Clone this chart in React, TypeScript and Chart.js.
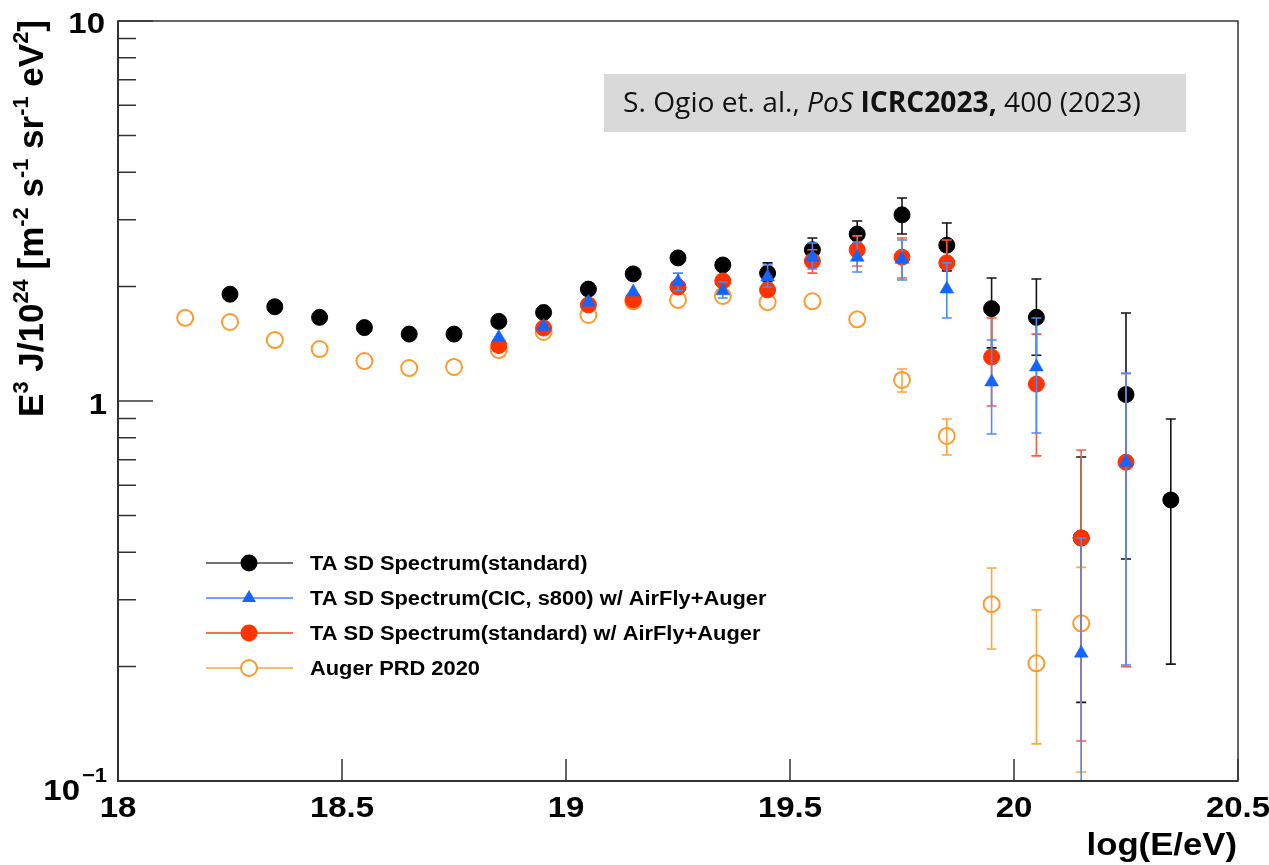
import React, { useEffect, useRef } from "react";
import { Chart, registerables } from "chart.js";

Chart.register(...registerables);

// ---------------- data ----------------
const taStdX = [18.25, 18.35, 18.45, 18.55, 18.65, 18.75, 18.85, 18.95, 19.05, 19.15, 19.25, 19.35, 19.45, 19.55, 19.65, 19.75, 19.85, 19.95, 20.05, 20.15, 20.25, 20.35];
const taStdY = [1.91, 1.77, 1.66, 1.56, 1.5, 1.5, 1.62, 1.71, 1.97, 2.16, 2.38, 2.28, 2.17, 2.5, 2.75, 3.09, 2.57, 1.75, 1.66, 0.436, 1.04, 0.549];
const taStdLo = [null, null, null, null, null, null, null, null, null, null, null, null, 2.06, 2.32, 2.54, 2.75, 2.2, 1.38, 1.32, 0.161, 0.384, 0.203];
const taStdHi = [null, null, null, null, null, null, null, null, null, null, null, null, 2.31, 2.685, 2.976, 3.42, 2.94, 2.107, 2.095, 0.712, 1.704, 0.897];

const taCicX = [18.85, 18.95, 19.05, 19.15, 19.25, 19.35, 19.45, 19.55, 19.65, 19.75, 19.85, 19.95, 20.05, 20.15, 20.25];
const taCicY = [1.47, 1.57, 1.82, 1.935, 2.06, 1.95, 2.12, 2.39, 2.39, 2.36, 1.97, 1.122, 1.229, 0.217, 0.69];
const taCicLo = [null, null, null, null, 1.95, 1.866, 1.995, 2.225, 2.185, 2.082, 1.653, 0.819, 0.824, 0.05, 0.202];
const taCicHi = [null, null, null, null, 2.17, 2.056, 2.28, 2.605, 2.62, 2.652, 2.31, 1.447, 1.653, 0.436, 1.185];

const taAirX = [18.85, 18.95, 19.05, 19.15, 19.25, 19.35, 19.45, 19.55, 19.65, 19.75, 19.85, 19.95, 20.05, 20.15, 20.25];
const taAirY = [1.4, 1.556, 1.79, 1.845, 1.995, 2.07, 1.96, 2.335, 2.5, 2.39, 2.31, 1.305, 1.108, 0.436, 0.69];
const taAirLo = [null, null, null, null, null, null, null, 2.17, 2.266, 2.107, 1.96, 0.97, 0.717, 0.1274, 0.2];
const taAirHi = [null, null, null, null, null, null, null, 2.5, 2.72, 2.685, 2.652, 1.653, 1.5, 0.743, 1.18];

const augerX = [18.15, 18.25, 18.35, 18.45, 18.55, 18.65, 18.75, 18.85, 18.95, 19.05, 19.15, 19.25, 19.35, 19.45, 19.55, 19.65, 19.75, 19.85, 19.95, 20.05, 20.15];
const augerY = [1.655, 1.614, 1.447, 1.37, 1.274, 1.221, 1.229, 1.362, 1.519, 1.684, 1.83, 1.845, 1.89, 1.82, 1.83, 1.64, 1.136, 0.809, 0.292, 0.204, 0.26];
const augerLo = [null, null, null, null, null, null, null, null, null, null, null, null, null, null, null, null, 1.056, 0.721, 0.2225, 0.1252, 0.1056];
const augerHi = [null, null, null, null, null, null, null, null, null, null, null, null, null, null, null, null, 1.214, 0.897, 0.3635, 0.282, 0.365];

const seriesNames = [
  "TA SD Spectrum(standard)",
  "TA SD Spectrum(CIC, s800) w/ AirFly+Auger",
  "TA SD Spectrum(standard) w/ AirFly+Auger",
  "Auger PRD 2020",
];

const xTickValues = [18, 18.5, 19, 19.5, 20, 20.5];
const xTickLabels = ["18", "18.5", "19", "19.5", "20", "20.5"];
const yMinorTicks = [0.2, 0.3, 0.4, 0.5, 0.6, 0.7, 0.8, 0.9, 2, 3, 4, 5, 6, 7, 8, 9];
const yMajorTicks = [0.1, 1, 10];

const xTitle = "log(E/eV)";
const yTitleParts: [string, boolean][] = [
  ["E", false], ["3", true], [" J/10", false], ["24", true], [" [m", false], ["-2", true],
  [" s", false], ["-1", true], [" sr", false], ["-1", true], [" eV", false], ["2", true], ["]", false],
];
const citationParts: [string, string][] = [
  ["S. Ogio et. al., ", "normal"], ["PoS", "italic"], [" ", "normal"], ["ICRC2023,", "bold"], [" 400 (2023)", "normal"],
];

// ---------------- styling ----------------
const BLACK = "#000000";
const BLUE = "#1464ff";
const RED = "#ff3300";
const ORANGE = "#ff9a2e";
const FONT = "'Liberation Sans', Arial, Helvetica, sans-serif";

function pts(xs: number[], ys: number[], lo: (number | null)[], hi: (number | null)[]) {
  return xs.map((x, i) => ({ x, y: ys[i], lo: lo[i], hi: hi[i] }));
}

function stext(ctx: CanvasRenderingContext2D, s: string, x: number, y: number, font: string, align: CanvasTextAlign, sx = 1.1, baseline: CanvasTextBaseline = "alphabetic") {
  ctx.save();
  ctx.font = font;
  ctx.translate(x, y);
  ctx.scale(sx, 1);
  ctx.textAlign = align;
  ctx.textBaseline = baseline;
  ctx.fillStyle = "#000";
  ctx.fillText(s, 0, 0);
  ctx.restore();
}

const errPlugin = {
  id: "errbars",
  beforeDatasetDraw(chart: any, args: any) {
    const ds = chart.data.datasets[args.index];
    const { ctx, chartArea } = chart;
    const xs = chart.scales.x;
    const ys = chart.scales.y;
    ctx.save();
    ctx.beginPath();
    ctx.rect(chartArea.left, chartArea.top, chartArea.right - chartArea.left, chartArea.bottom - chartArea.top);
    ctx.clip();
    ctx.strokeStyle = ds.errColor;
    ctx.lineWidth = 1.6;
    for (const p of ds.data) {
      if (p.lo == null || p.hi == null) continue;
      const x = xs.getPixelForValue(p.x);
      const y1 = ys.getPixelForValue(p.hi);
      const y0 = ys.getPixelForValue(p.lo);
      ctx.beginPath();
      ctx.moveTo(x, y1);
      ctx.lineTo(x, y0);
      ctx.moveTo(x - 5, y1);
      ctx.lineTo(x + 5, y1);
      ctx.moveTo(x - 5, y0);
      ctx.lineTo(x + 5, y0);
      ctx.stroke();
    }
    ctx.restore();
  },
};

const decoPlugin = {
  id: "deco",
  afterDraw(chart: any) {
    const { ctx, chartArea } = chart;
    const xs = chart.scales.x;
    const ys = chart.scales.y;
    const L = chartArea.left, R = chartArea.right, T = chartArea.top, B = chartArea.bottom;

    // frame
    ctx.save();
    ctx.strokeStyle = "#333";
    ctx.lineWidth = 1.5;
    ctx.strokeRect(L, T, R - L, B - T);
    ctx.lineWidth = 2;
    ctx.beginPath();
    ctx.moveTo(L, T);
    ctx.lineTo(L, B);
    ctx.lineTo(R, B);
    ctx.stroke();

    // y ticks
    ctx.lineWidth = 1.5;
    ctx.beginPath();
    for (const v of yMinorTicks) {
      const y = ys.getPixelForValue(v);
      ctx.moveTo(L, y);
      ctx.lineTo(L + 18, y);
    }
    for (const v of yMajorTicks) {
      const y = ys.getPixelForValue(v);
      ctx.moveTo(L, y);
      ctx.lineTo(L + 35, y);
    }
    // x ticks
    for (const v of xTickValues) {
      const x = xs.getPixelForValue(v);
      ctx.moveTo(x, B);
      ctx.lineTo(x, B - 22);
    }
    ctx.stroke();
    ctx.restore();

    // y tick labels
    const tf = `bold 30px ${FONT}`;
    const supf = `bold 20px ${FONT}`;
    stext(ctx, "10", L - 13, ys.getPixelForValue(10) + 12, tf, "right");
    stext(ctx, "1", L - 11, ys.getPixelForValue(1) + 13, tf, "right");
    stext(ctx, "10", L - 38, ys.getPixelForValue(0.1) + 19, tf, "right");
    stext(ctx, "\u22121", L - 11, ys.getPixelForValue(0.1) + 1, supf, "right");

    // x tick labels
    xTickValues.forEach((v, i) => {
      stext(ctx, xTickLabels[i], xs.getPixelForValue(v), B + 36, tf, "center");
    });

    // x title
    stext(ctx, xTitle, R - 1, B + 74, `bold 31px ${FONT}`, "right", 1.12);

    // y title
    ctx.save();
    const base = 33;
    let total = 0;
    for (const [s, sup] of yTitleParts) {
      ctx.font = `bold ${sup ? base * 0.62 : base}px ${FONT}`;
      total += ctx.measureText(s).width;
    }
    const k = 397 / total;
    const fs = base * k;
    ctx.translate(43, 417);
    ctx.rotate(-Math.PI / 2);
    ctx.fillStyle = "#000";
    let cx = 0;
    for (const [s, sup] of yTitleParts) {
      ctx.font = `bold ${sup ? fs * 0.62 : fs}px ${FONT}`;
      ctx.fillText(s, cx, sup ? -fs * 0.42 : 0);
      cx += ctx.measureText(s).width;
    }
    ctx.restore();

    // legend
    const rows = [563, 598, 633, 668];
    const lineCols = ["#444444", "#3d85ff", "#ff3a10", "#ffa040"];
    rows.forEach((ry, i) => {
      ctx.save();
      ctx.strokeStyle = lineCols[i];
      ctx.lineWidth = 1.6;
      ctx.beginPath();
      ctx.moveTo(206, ry);
      ctx.lineTo(293, ry);
      ctx.stroke();
      const mx = 249;
      if (i === 0 || i === 2) {
        ctx.fillStyle = i === 0 ? BLACK : RED;
        ctx.beginPath();
        ctx.arc(mx, ry, 8.5, 0, Math.PI * 2);
        ctx.fill();
      } else if (i === 1) {
        const r = 8;
        ctx.fillStyle = BLUE;
        ctx.beginPath();
        ctx.moveTo(mx, ry - r);
        ctx.lineTo(mx + 0.866 * r, ry + 0.5 * r);
        ctx.lineTo(mx - 0.866 * r, ry + 0.5 * r);
        ctx.closePath();
        ctx.fill();
      } else {
        ctx.fillStyle = "#fff";
        ctx.strokeStyle = ORANGE;
        ctx.lineWidth = 2;
        ctx.beginPath();
        ctx.arc(mx, ry, 8, 0, Math.PI * 2);
        ctx.fill();
        ctx.stroke();
      }
      ctx.restore();
      stext(ctx, seriesNames[i], 310, ry + 7, `bold 19.5px ${FONT}`, "left", 1.12);
    });

    // citation box
    ctx.save();
    ctx.fillStyle = "#d9d9d9";
    ctx.fillRect(604, 74, 582, 58);
    const cf = "'Open Sans', 'Noto Sans', sans-serif";
    const fontFor = (st: string, size: number) =>
      st === "bold" ? `bold ${size}px ${cf}` : st === "italic" ? `italic ${size}px ${cf}` : `${size}px ${cf}`;
    let w = 0;
    for (const [s, st] of citationParts) {
      ctx.font = fontFor(st, 24);
      w += ctx.measureText(s).width;
    }
    const csize = 24 * (518 / w);
    ctx.fillStyle = "#111";
    ctx.textBaseline = "alphabetic";
    let px = 623;
    for (const [s, st] of citationParts) {
      ctx.font = fontFor(st, csize);
      ctx.fillText(s, px, 112);
      px += ctx.measureText(s).width;
    }
    ctx.restore();
  },
};

export default function App() {
  const ref = useRef<HTMLCanvasElement | null>(null);

  useEffect(() => {
    if (!ref.current) return;
    const chart = new Chart(ref.current, {
      type: "scatter",
      data: {
        datasets: [
          {
            label: seriesNames[1],
            data: pts(taCicX, taCicY, taCicLo, taCicHi),
            pointStyle: "triangle",
            pointRadius: 8,
            pointBackgroundColor: BLUE,
            pointBorderColor: BLUE,
            pointBorderWidth: 0.5,
            errColor: "#4a8cff",
            order: 1,
          } as any,
          {
            label: seriesNames[2],
            data: pts(taAirX, taAirY, taAirLo, taAirHi),
            pointStyle: "circle",
            pointRadius: 8,
            pointBackgroundColor: RED,
            pointBorderColor: RED,
            pointBorderWidth: 1,
            errColor: "#ff5a40",
            order: 2,
          } as any,
          {
            label: seriesNames[3],
            data: pts(augerX, augerY, augerLo, augerHi),
            pointStyle: "circle",
            pointRadius: 8,
            pointBackgroundColor: "rgba(0,0,0,0)",
            pointBorderColor: ORANGE,
            pointBorderWidth: 2,
            errColor: "#ffa640",
            order: 3,
          } as any,
          {
            label: seriesNames[0],
            data: pts(taStdX, taStdY, taStdLo, taStdHi),
            pointStyle: "circle",
            pointRadius: 8,
            pointBackgroundColor: BLACK,
            pointBorderColor: BLACK,
            pointBorderWidth: 1,
            errColor: "#151515",
            order: 4,
          } as any,
        ],
      },
      options: {
        responsive: false,
        animation: false,
        devicePixelRatio: 1,
        layout: { padding: { left: 118, top: 21, right: 31, bottom: 84 } },
        plugins: {
          legend: { display: false },
          tooltip: { enabled: false },
          title: { display: false },
        },
        scales: {
          x: { type: "linear", min: 18, max: 20.5, display: false },
          y: { type: "logarithmic", min: 0.1, max: 10, display: false },
        },
      },
      plugins: [errPlugin, decoPlugin],
    });
    return () => chart.destroy();
  }, []);

  return (
    <div style={{ position: "absolute", left: 0, top: 0, width: 1269, height: 865, background: "#fff" }}>
      <canvas ref={ref} width={1269} height={865} />
    </div>
  );
}
